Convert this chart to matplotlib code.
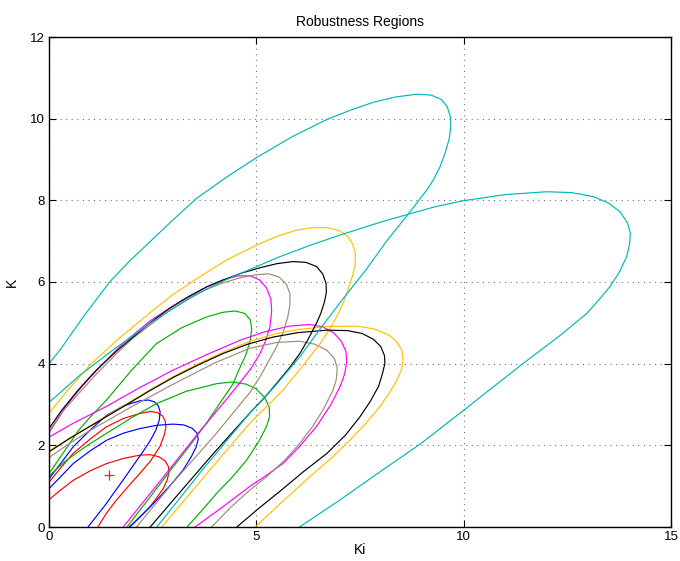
import matplotlib
matplotlib.use("Agg")
import matplotlib.pyplot as plt

plt.rcParams['font.family'] = ['Liberation Sans', 'DejaVu Sans']

# Robustness boundaries in the (Ki, K) plane, two loops per design case
red_a_ki = [0, 0.3, 0.58, 1.0, 1.38, 1.8, 2.19, 2.45, 2.62, 2.74, 2.80, 2.82, 2.78, 2.67, 2.45,
            2.19, 1.9, 1.62, 1.38, 1.18]
red_a_k = [1.10, 1.47, 1.80, 2.16, 2.45, 2.66, 2.78, 2.83, 2.80, 2.72, 2.60, 2.45, 2.25, 1.96, 1.62,
           1.31, 0.98, 0.65, 0.33, 0]
red_b_ki = [0, 0.3, 0.58, 1.0, 1.38, 1.8, 2.19, 2.45, 2.65, 2.80, 2.88, 2.89, 2.85, 2.76, 2.6,
            2.43, 2.2, 1.93]
red_b_k = [0.67, 0.92, 1.14, 1.38, 1.55, 1.68, 1.76, 1.77, 1.72, 1.62, 1.48, 1.33, 1.15, 0.95, 0.72,
           0.49, 0.25, 0]

blue_a_ki = [0, 0.3, 0.58, 1.0, 1.38, 1.8, 2.19, 2.4, 2.55, 2.64, 2.68, 2.66, 2.58, 2.45, 2.25,
             2.0, 1.78, 1.58, 1.38, 1.15, 0.94]
blue_a_k = [1.18, 1.58, 1.96, 2.38, 2.73, 2.97, 3.09, 3.11, 3.06, 2.96, 2.82, 2.62, 2.38, 2.13, 1.82,
            1.46, 1.14, 0.86, 0.57, 0.27, 0]
blue_b_ki = [0, 0.3, 0.58, 1.0, 1.38, 1.8, 2.19, 2.6, 2.99, 3.25, 3.45, 3.57, 3.60, 3.55, 3.43,
             3.23, 2.95, 2.59, 2.27, 1.95]
blue_b_k = [0.94, 1.25, 1.55, 1.87, 2.12, 2.30, 2.41, 2.49, 2.52, 2.50, 2.42, 2.30, 2.16, 1.96, 1.72,
            1.39, 1.05, 0.65, 0.32, 0]

green_a_ki = [0, 0.3, 0.7, 1.0, 1.38, 2.0, 2.59, 3.2, 3.79, 4.2, 4.5, 4.72, 4.85, 4.89, 4.85,
              4.74, 4.58, 4.44, 4.1, 3.79, 3.4, 2.99, 2.45, 1.88]
green_a_k = [1.31, 1.75, 2.35, 2.7, 3.10, 3.85, 4.49, 4.88, 5.14, 5.26, 5.29, 5.23, 5.08, 4.85, 4.55,
             4.2, 3.85, 3.51, 3.0, 2.53, 2.0, 1.47, 0.75, 0]
green_b_ki = [0, 0.4, 0.9, 1.38, 2.0, 2.59, 3.3, 4.04, 4.4, 4.75, 5.0, 5.2, 5.31, 5.32, 5.24,
              5.05, 4.76, 4.4, 4.04, 3.7, 3.33]
green_b_k = [1.25, 1.62, 1.98, 2.29, 2.68, 3.02, 3.32, 3.51, 3.55, 3.50, 3.38, 3.17, 2.94, 2.70, 2.45,
             2.08, 1.63, 1.2, 0.82, 0.42, 0]

magenta_a_ki = [0, 0.4, 0.8, 1.3, 1.79, 2.44, 3.2, 3.8, 4.2, 4.55, 4.85, 5.08, 5.25, 5.35, 5.37,
                5.33, 5.22, 5.09, 4.85, 4.3, 3.6, 2.7, 1.79]
magenta_a_k = [2.33, 2.95, 3.45, 4.0, 4.5, 5.05, 5.55, 5.88, 6.05, 6.15, 6.15, 6.05, 5.85, 5.58, 5.3,
               4.91, 4.55, 4.25, 3.85, 3.15, 2.3, 1.15, 0]
magenta_b_ki = [0, 0.6, 1.38, 2.2, 2.99, 3.8, 4.60, 5.2, 5.80, 6.29, 6.6, 6.86, 7.05, 7.16, 7.18,
                7.13, 7.02, 6.8, 6.45, 6.05, 5.65, 5.25, 4.85, 4.2, 3.52]
magenta_b_k = [2.2, 2.55, 2.95, 3.42, 3.84, 4.22, 4.57, 4.78, 4.92, 4.96, 4.90, 4.76, 4.55, 4.30, 4.05,
               3.75, 3.44, 3.0, 2.46, 1.98, 1.56, 1.27, 1.00, 0.5, 0]

brown_a_ki = [0, 0.35, 0.7, 1.1, 1.6, 2.0, 2.44, 2.9, 3.4, 3.8, 4.2, 4.6, 5.0, 5.3, 5.55,
              5.72, 5.81, 5.81, 5.76, 5.64, 5.49, 5.29, 5.09, 4.85, 4.0, 3.0, 2.11]
brown_a_k = [2.30, 2.85, 3.25, 3.7, 4.22, 4.6, 4.95, 5.3, 5.6, 5.82, 5.98, 6.1, 6.18, 6.2, 6.12,
             5.95, 5.72, 5.45, 5.15, 4.75, 4.42, 4.05, 3.68, 3.3, 2.25, 1.1, 0]
brown_b_ki = [0, 0.5, 1.0, 2.0, 3.0, 4.0, 4.85, 5.5, 6.05, 6.4, 6.7, 6.88, 6.95, 6.93, 6.85,
              6.61, 6.35, 6.05, 5.7, 5.25, 4.85, 4.4, 3.92]
brown_b_k = [1.7, 2.05, 2.37, 2.95, 3.5, 4.02, 4.38, 4.52, 4.55, 4.48, 4.33, 4.13, 3.90, 3.62, 3.35,
             2.87, 2.45, 2.05, 1.65, 1.23, 0.91, 0.5, 0]

black_a_ki = [0, 0.3, 0.7, 1.1, 1.62, 2.0, 2.44, 2.9, 3.40, 3.8, 4.20, 4.65, 5.09, 5.5, 5.89,
              6.2, 6.45, 6.6, 6.68, 6.69, 6.64, 6.55, 6.45, 6.25, 6.05, 5.8, 5.49, 5.2, 4.85,
              4.0, 3.2, 2.44]
black_a_k = [2.41, 2.85, 3.35, 3.8, 4.3, 4.63, 5.0, 5.35, 5.66, 5.88, 6.05, 6.22, 6.35, 6.45, 6.50,
             6.48, 6.38, 6.2, 5.97, 5.75, 5.5, 5.22, 4.99, 4.6, 4.25, 3.9, 3.52, 3.17, 2.80,
             1.84, 0.9, 0]
black_b_ki = [0, 0.5, 0.98, 1.78, 2.4, 2.99, 3.6, 4.20, 4.8, 5.4, 6.0, 6.70, 7.2, 7.55, 7.82,
              8.0, 8.09, 8.10, 8.04, 7.95, 7.75, 7.50, 7.15, 6.70, 6.13, 5.6, 5.05, 4.53]
black_b_k = [1.84, 2.17, 2.46, 2.94, 3.32, 3.66, 3.97, 4.25, 4.48, 4.65, 4.76, 4.82, 4.81, 4.74, 4.6,
             4.42, 4.2, 4.0, 3.75, 3.45, 3.08, 2.70, 2.25, 1.80, 1.35, 0.9, 0.45, 0]

orange_a_ki = [0, 0.45, 1.02, 1.7, 2.44, 3.0, 3.64, 4.3, 5.0, 5.5, 5.97, 6.35, 6.7, 7.0, 7.2,
               7.33, 7.39, 7.38, 7.32, 7.22, 7.1, 6.94, 6.75, 6.53, 6.1, 5.65, 5.2, 4.85, 3.8, 2.72]
orange_a_k = [2.78, 3.35, 4.0, 4.63, 5.25, 5.7, 6.13, 6.55, 6.9, 7.12, 7.27, 7.33, 7.33, 7.26, 7.12,
              6.92, 6.68, 6.4, 6.15, 5.85, 5.5, 5.15, 4.82, 4.48, 3.92, 3.36, 2.9, 2.55, 1.3, 0]
orange_b_ki = [0, 0.5, 0.98, 1.78, 2.4, 2.99, 3.6, 4.20, 4.85, 5.5, 6.05, 6.7, 7.42, 7.85, 8.2,
               8.40, 8.51, 8.54, 8.5, 8.38, 8.2, 7.98, 7.65, 7.26, 6.8, 6.29, 5.65, 4.97]
orange_b_k = [1.86, 2.18, 2.47, 2.96, 3.34, 3.68, 4.0, 4.28, 4.55, 4.74, 4.84, 4.91, 4.92, 4.85, 4.70,
              4.52, 4.32, 4.08, 3.85, 3.58, 3.27, 2.95, 2.55, 2.13, 1.68, 1.23, 0.64, 0]

cyan_a_ki = [0, 0.27, 0.85, 1.47, 1.95, 2.44, 3.0, 3.56, 4.3, 5.01, 5.85, 6.70, 7.3, 7.82, 8.35,
             8.87, 9.2, 9.45, 9.6, 9.68, 9.69, 9.65, 9.55, 9.43, 9.28, 9.11, 8.63, 8.14, 7.66,
             7.1, 6.58, 6.05, 5.45, 4.85, 3.7, 2.60]
cyan_a_k = [4.0, 4.34, 5.18, 6.01, 6.52, 6.99, 7.53, 8.05, 8.58, 9.05, 9.55, 9.98, 10.22, 10.40, 10.53,
            10.60, 10.58, 10.48, 10.30, 10.05, 9.8, 9.5, 9.15, 8.82, 8.52, 8.25, 7.62, 7.0, 6.32,
            5.6, 4.91, 4.17, 3.45, 2.8, 1.4, 0]
cyan_b_ki = [0, 0.75, 1.55, 2.44, 3.5, 4.3, 5.01, 5.57, 6.3, 7.02, 7.98, 8.63, 9.3, 9.99, 11.0,
             12.0, 12.6, 13.13, 13.5, 13.77, 13.95, 14.02, 14.0, 13.93, 13.76, 13.53, 13.25, 12.97,
             12.3, 11.44, 10.7, 9.99, 8.95, 7.98, 7.0, 6.04]
cyan_b_k = [3.05, 3.72, 4.34, 4.99, 5.68, 6.07, 6.38, 6.62, 6.9, 7.15, 7.46, 7.65, 7.84, 7.99, 8.14,
            8.21, 8.19, 8.09, 7.93, 7.72, 7.45, 7.2, 6.92, 6.62, 6.25, 5.89, 5.55, 5.23,
            4.67, 4.01, 3.42, 2.85, 2.03, 1.35, 0.65, 0]

# nominal operating point
ki0 = [1.45]
k0 = [1.28]

fig = plt.figure(figsize=(6.8, 5.61), dpi=100)
ax = fig.add_axes([49 / 680, 34 / 561, 622 / 680, 490 / 561])

lw = 0.85
ax.plot(red_a_ki, red_a_k, color='#ff0000', lw=lw)
ax.plot(red_b_ki, red_b_k, color='#ff0000', lw=lw)
ax.plot(blue_a_ki, blue_a_k, color='#0000ff', lw=lw)
ax.plot(blue_b_ki, blue_b_k, color='#0000ff', lw=lw)
ax.plot(green_a_ki, green_a_k, color='#00b000', lw=lw)
ax.plot(green_b_ki, green_b_k, color='#00b000', lw=lw)
ax.plot(magenta_a_ki, magenta_a_k, color='#ff00ff', lw=lw)
ax.plot(magenta_b_ki, magenta_b_k, color='#ff00ff', lw=lw)
ax.plot(brown_a_ki, brown_a_k, color='#a08a78', lw=lw)
ax.plot(brown_b_ki, brown_b_k, color='#a08a78', lw=lw)
ax.plot(orange_a_ki, orange_a_k, color='#ffc000', lw=lw)
ax.plot(orange_b_ki, orange_b_k, color='#ffc000', lw=lw)
ax.plot(black_a_ki, black_a_k, color='#000000', lw=lw)
ax.plot(black_b_ki, black_b_k, color='#000000', lw=lw)
ax.plot(cyan_a_ki, cyan_a_k, color='#00b8b8', lw=lw)
ax.plot(cyan_b_ki, cyan_b_k, color='#00b8b8', lw=lw)
ax.plot(ki0, k0, '+', color='#c83232', ms=7, mew=0.9)

ax.set_xlim(0, 15)
ax.set_ylim(0, 12)
ax.set_xticks([0, 5, 10, 15])
ax.set_yticks([0, 2, 4, 6, 8, 10, 12])
ax.grid(True, linestyle=(0, (1, 4)), color='#707070', lw=0.8)
ax.tick_params(direction='in', top=True, right=True, labelsize=9.5, length=5, width=0.8, pad=3)
for s in ax.spines.values():
    s.set_linewidth(1.0)

ax.set_xlabel('Ki', fontsize=10, labelpad=0)
ax.set_ylabel('K', fontsize=10, labelpad=8)
ax.set_title('Robustness Regions', fontsize=10, pad=8)

fig.savefig('out.png', dpi=100)
